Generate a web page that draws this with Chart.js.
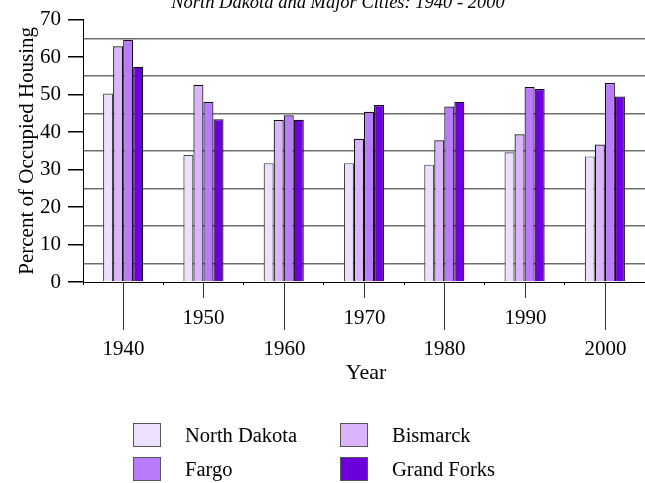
<!DOCTYPE html>
<html>
<head>
<meta charset="utf-8">
<script src="https://cdn.jsdelivr.net/npm/chart.js@4/dist/chart.umd.min.js"></script>
<style>
  html, body { margin: 0; padding: 0; background: #fff; }
  #wrap { width: 645px; height: 483px; }
</style>
</head>
<body>
<div id="wrap"><canvas id="grafico"></canvas></div>
<script>
// Datos
const years = ['1940', '1950', '1960', '1970', '1980', '1990', '2000'];
const northDakota = [50.3, 33.9, 31.7, 31.7, 31.3, 34.6, 33.5];
const bismarck = [62.9, 52.6, 43.2, 38.2, 37.8, 39.4, 36.7];
const fargo = [64.6, 48.1, 44.5, 45.4, 46.8, 52.0, 53.1];
const grandForks = [57.4, 43.4, 43.3, 47.2, 48.1, 51.5, 49.5];
const seriesNames = ['North Dakota', 'Bismarck', 'Fargo', 'Grand Forks'];
const seriesColors = ['#ede0ff', '#dab5fc', '#b97bfb', '#6c00db'];
const yTicks = [0, 10, 20, 30, 40, 50, 60, 70];

const serif = '"Liberation Serif", "DejaVu Serif", serif';

// Título, etiquetas del eje X y leyenda dibujados a mano
const decoraciones = {
    id: 'decoraciones',
    afterDraw(chart) {
        const ctx = chart.ctx;
        const area = chart.chartArea;
        const x = chart.scales.x;
        ctx.save();

        // título (cortado arriba como en el original)
        ctx.fillStyle = '#000';
        ctx.font = 'italic 18.5px ' + serif;
        ctx.textAlign = 'center';
        ctx.textBaseline = 'alphabetic';
        ctx.fillText('North Dakota and Major Cities: 1940 - 2000', 338, 7.5);

        // marcas y etiquetas del eje X, alternadas
        ctx.strokeStyle = '#333';
        ctx.lineWidth = 1;
        ctx.font = '21px ' + serif;
        ctx.textBaseline = 'middle';
        years.forEach((yr, i) => {
            const px = Math.round(x.getPixelForValue(i)) + 0.5;
            const largo = i % 2 === 0 ? 48 : 16;
            ctx.beginPath();
            ctx.moveTo(px, area.bottom);
            ctx.lineTo(px, area.bottom + largo);
            ctx.stroke();
            ctx.fillText(yr, px, i % 2 === 0 ? 349 : 318);
        });
        ctx.font = '22px ' + serif;
        ctx.fillText('Year', (area.left + area.right) / 2 + 2, 373);

        // leyenda en dos columnas
        const cajas = [[133, 423], [340, 423], [133, 457], [340, 457]];
        ctx.textAlign = 'left';
        ctx.font = '20.5px ' + serif;
        chart.data.datasets.forEach((ds, i) => {
            const [bx, by] = cajas[i];
            ctx.fillStyle = ds.backgroundColor;
            ctx.fillRect(bx, by, 27, 23);
            ctx.strokeStyle = '#555';
            ctx.strokeRect(bx + 0.5, by + 0.5, 27, 23);
            ctx.fillStyle = '#000';
            ctx.fillText(ds.label, bx + 52, by + 14);
        });
        ctx.restore();
    }
};

const datos = [northDakota, bismarck, fargo, grandForks];

new Chart(document.getElementById('grafico'), {
    type: 'bar',
    data: {
        labels: years,
        datasets: seriesNames.map((nombre, i) => ({
            label: nombre,
            data: datos[i],
            backgroundColor: seriesColors[i],
            borderColor: i === 0 ? '#444' : '#111',
            borderWidth: 1.2,
            borderSkipped: 'bottom',
            barPercentage: 1,
            categoryPercentage: 0.5
        }))
    },
    options: {
        responsive: true,
        maintainAspectRatio: false,
        animation: false,
        layout: { padding: { top: 17, right: 0, bottom: 0, left: 0 } },
        plugins: {
            legend: { display: false },
            tooltip: { enabled: false }
        },
        scales: {
            x: {
                offset: true,
                border: { color: '#000', width: 1 },
                grid: {
                    offset: true,
                    drawOnChartArea: false,
                    drawTicks: true,
                    tickLength: 3,
                    color: '#000'
                },
                ticks: { display: false },
                afterFit(scale) { scale.height = 201; }
            },
            y: {
                min: 0,
                max: 70,
                border: { color: '#000', width: 1 },
                grid: {
                    color: c => (c.tick && c.tick.value % 10 === 5) ? '#6e6e6e' : 'rgba(0,0,0,0)',
                    tickColor: c => (c.tick && c.tick.value % 10 === 0) ? '#000' : 'rgba(0,0,0,0)',
                    lineWidth: 1.5,
                    tickLength: 15
                },
                ticks: {
                    stepSize: 5,
                    autoSkip: false,
                    padding: 7,
                    color: '#000',
                    font: { family: serif, size: 21 },
                    callback: v => yTicks.includes(v) ? v : ''
                },
                title: {
                    display: true,
                    text: 'Percent of Occupied Housing',
                    color: '#000',
                    font: { family: serif, size: 21 },
                    padding: { top: 15, bottom: 0 }
                },
                afterFit(scale) { scale.width = 83; }
            }
        }
    },
    plugins: [decoraciones]
});
</script>
</body>
</html>
